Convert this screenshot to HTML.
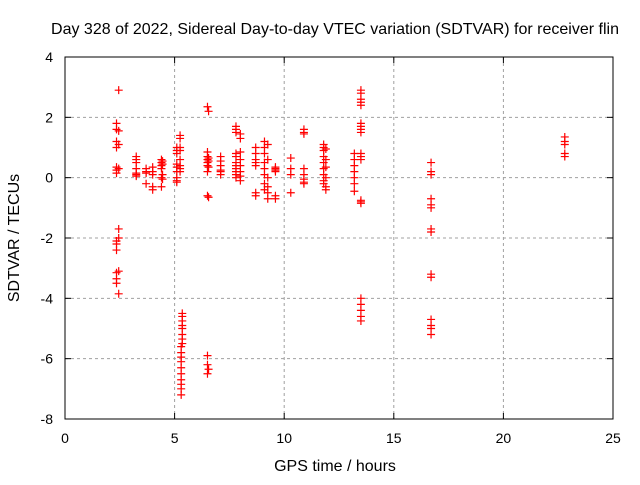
<!DOCTYPE html>
<html><head><meta charset="utf-8"><style>
body{margin:0;background:#fff}
svg text{font-family:"Liberation Sans",sans-serif;font-size:14px;fill:#000}
svg text.big{font-size:16px}
</style></head><body>
<svg width="640" height="480" xmlns="http://www.w3.org/2000/svg">
<g id="grid"></g>
<g id="ticks"></g>
<g id="points"></g>
<rect x="65" y="57" width="548" height="362" fill="none" stroke="#000" stroke-width="1"/>
<text class="big" x="335" y="34" text-anchor="middle">Day 328 of 2022, Sidereal Day-to-day VTEC variation (SDTVAR) for receiver flin</text>
<text class="big" x="335" y="471" text-anchor="middle">GPS time / hours</text>
<text class="big" x="19" y="238" text-anchor="middle" transform="rotate(-90 19 238)">SDTVAR / TECUs</text>
</svg>
<script>
const xTicks=[0,5,10,15,20,25];
const yTicks=[4,2,0,-2,-4,-6,-8];
const clusterHours=[2.35,2.45,3.25,3.7,4.0,4.4,4.45,5.1,5.25,5.35,5.3,6.5,6.55,7.1,7.8,8.0,8.7,9.1,9.25,9.6,10.3,10.9,11.8,11.9,13.2,13.5,16.7,22.8];
const clusterValues=[
[1.8,1.6,1.2,1.0,0.35,0.25,0.15,-2.1,-2.2,-2.4,-3.15,-3.35,-3.5],
[2.9,1.55,1.1,0.3,-1.7,-2.0,-3.1,-3.85],
[0.7,0.6,0.5,0.3,0.15,0.1,0.05],
[0.3,0.2,0.15,-0.2],
[0.35,0.2,0.1,-0.3,-0.4],
[0.6,0.5,0.4,0.3,0.0,-0.3],
[0.55,0.45,0.1,-0.05],
[1.0,0.9,0.8,0.45,0.35,0.2,0.0,-0.1,-0.15],
[1.4,1.3,1.0,0.9,0.6,0.4,0.3,0.2],
[-4.5,-4.6,-4.75,-4.9,-5.0,-5.2,-5.35,-5.5],
[-5.6,-5.8,-5.95,-6.1,-6.3,-6.5,-6.7,-6.85,-7.0,-7.2],
[2.35,0.85,0.7,0.6,0.5,0.4,0.2,-0.6,-5.9,-6.2,-6.5],
[2.2,0.65,0.55,0.35,-0.65,-6.35],
[0.7,0.55,0.4,0.25,0.2,0.1],
[1.7,1.6,1.5,0.8,0.7,0.5,0.4,0.3,0.2,0.1,0.0],
[1.45,1.3,0.85,0.6,0.4,0.2,0.05,-0.1],
[1.0,0.8,0.6,0.5,0.4,-0.5,-0.6],
[1.2,1.0,0.8,0.5,0.3,0.1,-0.2,-0.4],
[1.1,0.6,0.0,-0.3,-0.5,-0.7],
[0.35,0.3,0.25,0.2,-0.6,-0.7],
[0.65,0.3,0.1,-0.5],
[1.6,1.5,1.45,0.3,0.1,-0.05,-0.15,-0.2],
[1.1,1.0,0.9,0.7,0.5,0.3,0.1,-0.1,-0.2],
[0.95,0.6,0.35,0.0,-0.3,-0.4],
[0.8,0.6,0.4,0.2,0.0,-0.2,-0.45],
[2.9,2.8,2.6,2.5,2.4,1.8,1.7,1.6,1.5,0.8,0.7,0.6,-0.75,-0.8,-0.85,-4.0,-4.2,-4.4,-4.6,-4.75],
[0.5,0.2,0.1,-0.7,-0.9,-1.0,-1.7,-1.8,-3.2,-3.3,-4.7,-4.9,-5.0,-5.2],
[1.35,1.2,1.1,0.8,0.7]
];
const NS="http://www.w3.org/2000/svg";
const X0=65,X1=613,Y0=419,Y1=57;
function sx(h){return X0+(h-0)/(25-0)*(X1-X0);}
function sy(v){return Y0-(v+8)/(12)*(Y0-Y1);}
function mk(tag,attrs,parent){const e=document.createElementNS(NS,tag);for(const k in attrs)e.setAttribute(k,attrs[k]);parent.appendChild(e);return e;}
const grid=document.getElementById('grid'),ticks=document.getElementById('ticks'),pts=document.getElementById('points');
xTicks.forEach(t=>{
  const x=sx(t);
  if(t>0&&t<25){const g=mk('line',{x1:x,x2:x,y1:Y1,y2:Y0,stroke:'#a0a0a0','stroke-dasharray':'3,3'},grid);
  
  }
  mk('line',{x1:x,x2:x,y1:Y0,y2:Y0-6,stroke:'#000'},ticks);
  mk('line',{x1:x,x2:x,y1:Y1,y2:Y1+6,stroke:'#000'},ticks);
  const l=mk('text',{x:x,y:Y0+24,'text-anchor':'middle'},ticks);l.textContent=t;
  
  
});
yTicks.forEach(t=>{
  const y=sy(t);
  if(t>-8&&t<4){const g=mk('line',{x1:X0,x2:X1,y1:y,y2:y,stroke:'#a0a0a0','stroke-dasharray':'3,3'},grid);
  
  }
  mk('line',{x1:X0,x2:X0+6,y1:y,y2:y,stroke:'#000'},ticks);
  mk('line',{x1:X1,x2:X1-6,y1:y,y2:y,stroke:'#000'},ticks);
  const l=mk('text',{x:X0-12,y:y+5,'text-anchor':'end'},ticks);l.textContent=t;
  
  
});
clusterHours.forEach((h,i)=>{
  clusterValues[i].forEach(v=>{
    const x=sx(h),y=sy(v);
    const p=mk('path',{d:`M${x-4} ${y}H${x+4}M${x} ${y-4}V${y+4}`,stroke:'#f00','stroke-width':1.2,fill:'none'},pts);
    
    
  });
});
</script>
</body></html>
